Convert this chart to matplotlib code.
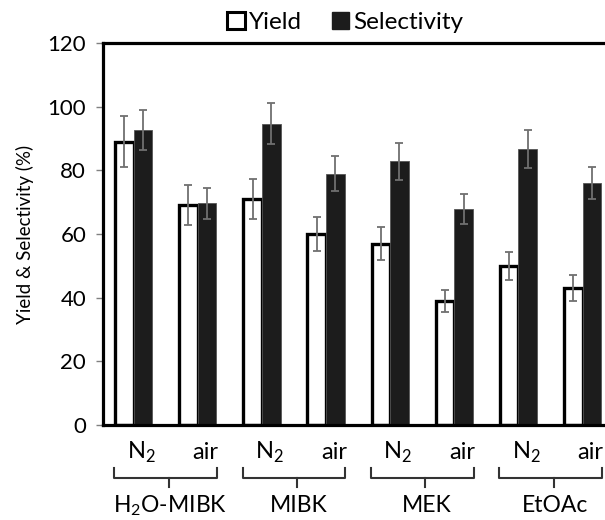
import numpy as np
import matplotlib
matplotlib.use('Agg')
from matplotlib import pyplot as plt
from matplotlib.patches import Patch
import matplotlib.transforms as mtransforms

plt.rcParams['font.family'] = ['Lato', 'DejaVu Sans']
plt.rcParams['mathtext.fontset'] = 'custom'
plt.rcParams['mathtext.rm'] = 'Lato'

# data
solvents = [r'H$_\mathregular{2}$O-MIBK', 'MIBK', 'MEK', 'EtOAc']
atmospheres = [r'N$_\mathregular{2}$', 'air']
yield_vals = [89, 69, 71, 60, 57, 39, 50, 43]
yield_err = [8, 6.3, 6.3, 5.3, 5.2, 3.5, 4.4, 4]
select_vals = [92.7, 69.6, 94.7, 79, 82.8, 67.8, 86.7, 75.9]
select_err = [6.2, 5, 6.4, 5.4, 5.7, 4.7, 6, 5]

if __name__ == '__main__':
    fig = plt.figure(figsize=(6.05, 5.2), dpi=100)
    ax = fig.add_axes([0.170, 0.1827, 0.846, 0.7346])

    x = np.arange(len(yield_vals))
    w = 0.29
    err_kw = dict(ecolor='#707070', elinewidth=1.3, capsize=3.2, capthick=1.3)

    ax.bar(x - w / 2, yield_vals, w, yerr=yield_err, color='white',
           edgecolor='black', linewidth=2.4, error_kw=err_kw, zorder=2)
    ax.bar(x + w / 2, select_vals, w, yerr=select_err, color='#1c1c1c',
           edgecolor='#555555', linewidth=0.6, error_kw=err_kw, zorder=2)

    ax.set_xlim(-0.48, 7.5)
    ax.set_ylim(0, 120)
    ax.set_yticks(np.arange(0, 121, 20))
    ax.set_xticks([])
    ax.tick_params(axis='y', labelsize=16, length=5, width=1, color='#808080', pad=7)
    ax.set_ylabel('Yield & Selectivity (%)', fontsize=13.5, labelpad=10)
    for side in ['left', 'top', 'bottom']:
        ax.spines[side].set_linewidth(2.3)
    ax.spines['right'].set_visible(False)

    # category labels and brackets below the axis
    trans = mtransforms.blended_transform_factory(ax.transData, ax.transAxes)
    for i, solvent in enumerate(solvents):
        c = 2 * i + 0.5
        for j, atm in enumerate(atmospheres):
            ax.text(2 * i + j + 0.12, -0.073, atm, transform=trans, ha='center',
                    va='center', fontsize=17)
        bx = [c - 0.8, c - 0.8, c + 0.8, c + 0.8]
        by = [-0.112, -0.139, -0.139, -0.112]
        ax.plot(bx, by, transform=trans, color='#333333', lw=1.5, clip_on=False)
        ax.plot([c + 0.05, c + 0.05], [-0.139, -0.163], transform=trans,
                color='#333333', lw=1.5, clip_on=False)
        ax.text(c + 0.07, -0.212, solvent, transform=trans, ha='center',
                va='center', fontsize=16.5)

    handles = [Patch(facecolor='white', edgecolor='black', linewidth=2.2),
               Patch(facecolor='#1c1c1c', edgecolor='#1c1c1c')]
    fig.legend(handles, ['Yield', 'Selectivity'], loc='center',
               bbox_to_anchor=(0.571, 0.956), ncol=2, frameon=False,
               fontsize=17.5, handlelength=0.7, handleheight=0.7,
               handletextpad=0.2, columnspacing=1.2)

    fig.savefig('out.png', dpi=100)
